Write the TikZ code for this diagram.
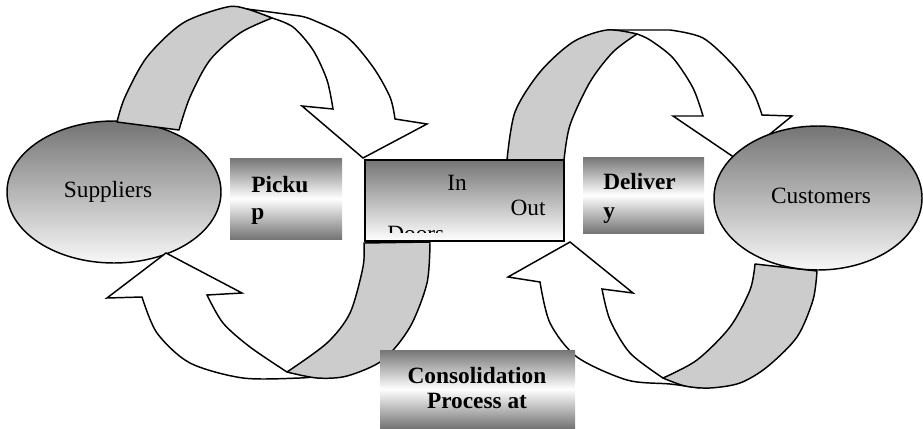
\documentclass[tikz,border=0pt]{standalone}
\usepackage{fontspec}
\setmainfont{Liberation Serif}
\usetikzlibrary{shapes.geometric}
\definecolor{bandgray}{HTML}{CCCCCC}
\definecolor{ovaltop}{HTML}{747474}
\definecolor{boxdark}{HTML}{757575}
\begin{document}
\begin{tikzpicture}[x=0.75pt,y=-0.75pt,
  band/.style={fill=bandgray, draw=black, line width=1.1pt, line join=round},
  arrowbody/.style={fill=white, draw=black, line width=1.1pt, line join=miter},
  oval/.style={ellipse, draw=black, line width=1.1pt, top color=ovaltop, bottom color=white!97!black, inner sep=0pt},
  barbox/.style={rectangle, inner sep=0pt, top color=boxdark, bottom color=boxdark, middle color=white},
  doorbox/.style={rectangle, inner sep=0pt, draw=black, line width=1.1pt, top color=boxdark, bottom color=white},
  lab/.style={font=\fontsize{17.5}{20}\selectfont, inner sep=0pt},
  blab/.style={font=\fontsize{17.5}{20}\selectfont\bfseries, inner sep=0pt}]
\useasboundingbox (0,0) rectangle (923,428);

% Suppliers ellipse
\node[oval, minimum width=160.5pt, minimum height=106.5pt] (sup) at (114,192) {};

% top-left arrow (Suppliers -> Doors)
\filldraw[arrowbody] (247,9) -- (300,16)
  -- plot[smooth] coordinates {(300,16) (313,20) (347,37) (373,67) (390,97) (395,119)}
  -- (427,124) -- (363,158) -- (302,106) -- (333,109)
  -- plot[smooth] coordinates {(333,109) (327,80) (313,50) (293,27) (272,18)} -- cycle;
\filldraw[band] (117,122)
  -- plot[smooth] coordinates {(117,122) (125,97) (147,57) (183,23) (227,7) (247,9) (272,18)}
  -- plot[smooth] coordinates {(272,18) (240,33) (210,60) (190,97) (179,130)} -- cycle;

% bottom-left arrow (Doors -> Suppliers)
\filldraw[arrowbody] (287,372)
  -- plot[smooth] coordinates {(287,372) (250,347) (223,323) (207,295)}
  -- (242,293) -- (166,253) -- (107,298) -- (142,297)
  -- plot[smooth] coordinates {(142,297) (157,333) (190,363) (243,378) (300,378) (317,376)} -- cycle;
\filldraw[band] (364,243)
  -- plot[smooth] coordinates {(364,243) (363,267) (350,313) (327,343) (287,372)}
  -- plot[smooth] coordinates {(287,372) (317,378) (347,376) (383,360) (410,327) (427,283) (430,242)} -- cycle;

% top-right arrow (Doors -> Customers)
\filldraw[arrowbody] (607,30) -- (670,30)
  -- plot[smooth] coordinates {(670,30) (703,38) (733,65) (753,92) (762,115)}
  -- (792,116) -- (738,160) -- (673,116) -- (703,116)
  -- plot[smooth] coordinates {(703,116) (693,88) (673,58) (650,40) (637,34)} -- cycle;
\filldraw[band] (507,160)
  -- plot[smooth] coordinates {(507,160) (515,112) (540,72) (573,42) (607,30) (637,34)}
  -- plot[smooth] coordinates {(637,34) (613,52) (590,82) (570,125) (564,160)} -- cycle;

% bottom-right arrow (Customers -> Doors)
\filldraw[arrowbody] (663,378)
  -- plot[smooth] coordinates {(663,378) (630,353) (610,320) (602,289)}
  -- (633,293) -- (570,242) -- (508,277) -- (540,282)
  -- plot[smooth] coordinates {(540,282) (550,323) (577,357) (627,380) (670,384) (700,388)} -- cycle;
\filldraw[band] (755,264)
  -- plot[smooth] coordinates {(755,264) (750,290) (730,327) (697,360) (663,378)}
  -- plot[smooth] coordinates {(663,378) (685,386) (710,388) (740,383) (767,367) (797,337) (813,300) (817,271)} -- cycle;

% Customers ellipse
\node[oval, minimum width=156pt, minimum height=108pt] (cus) at (818,198) {};

% Doors rectangle
\node[doorbox, minimum width=149.25pt, minimum height=60.75pt] (doors) at (464.5,200.5) {};
\node[lab, anchor=base] (tin) at (457,190) {In};
\node[lab, anchor=base] (tout) at (528,215) {Out};
\begin{scope}
  \clip (366,161) rectangle (563,232);
  \node[lab, anchor=base west] (tdoors) at (387,241) {Doors};
\end{scope}

% label boxes
\node[barbox, minimum width=84pt, minimum height=60.75pt] (pick) at (286,198.5) {};
\node[barbox, minimum width=90.75pt, minimum height=57pt] (deliv) at (643.5,195) {};
\node[barbox, minimum width=146.25pt, minimum height=58.5pt] (cons) at (477.5,389) {};

% texts
\node[lab, anchor=base] (supt) at (108,197) {Suppliers};
\node[lab, anchor=base] (cust) at (821,203) {Customers};
\node[blab, anchor=base west] (pick1) at (251,192) {Picku};
\node[blab, anchor=base west] (pick2) at (251,219) {p};
\node[blab, anchor=base west] (del1) at (603,189) {Deliver};
\node[blab, anchor=base west] (del2) at (603,218) {y};
\node[blab, anchor=base] (cons1) at (477,383) {Consolidation};
\node[blab, anchor=base] (cons2) at (477,408) {Process at};
\end{tikzpicture}
\end{document}
